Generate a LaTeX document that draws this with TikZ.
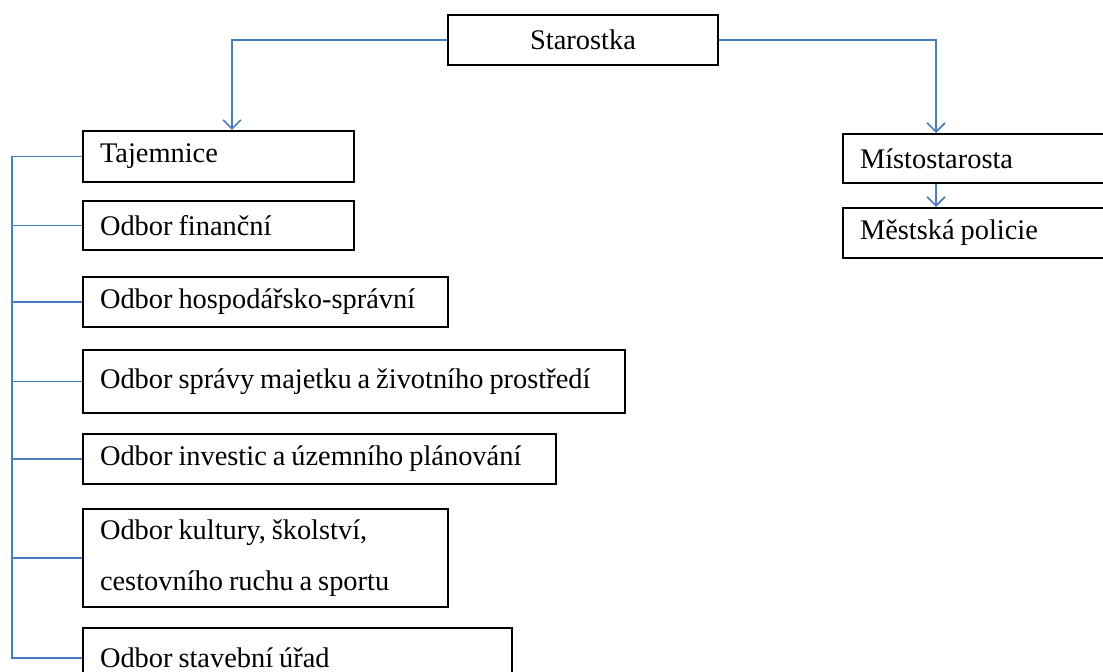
\documentclass[tikz,border=0pt]{standalone}
\usepackage{fontspec}
\setmainfont{Liberation Serif}
\usepackage{xcolor}
\usepackage{tikz}
\usetikzlibrary{arrows.meta}
\definecolor{linkblue}{RGB}{74,126,187}
\newcommand{\uzkemezery}{\spaceskip=0.21em plus 0.05em\relax}
\tikzset{
	odbor/.style={draw=black, line width=1pt, anchor=north west, align=left, inner xsep=8.5pt, inner ysep=0pt, font=\fontsize{14.2}{25.5}\selectfont, execute at begin node=\uzkemezery},
	vedeni/.style={draw=black, line width=1pt, anchor=north west, align=center, inner sep=0pt, font=\fontsize{14.2}{17}\selectfont},
	link/.style={draw=linkblue, line width=0.8pt},
	sipka/.style={link, -{Straight Barb[length=4.5pt,width=9pt,line width=0.8pt]}}
}

\begin{document}
\begin{tikzpicture}[x=0.5pt, y=-0.5pt]
	\useasboundingbox (0,0) rectangle (1103,672);
	
	\node[vedeni, minimum width=135pt, minimum height=25pt] (star) at (447,14) {Starostka};
	
	\node[odbor, text width=118.5pt, minimum height=25.5pt] (taj) at (82,130) {Tajemnice};
	\node[odbor, text width=118.5pt, minimum height=24.5pt] (fin) at (82,200) {Odbor finanční};
	\node[odbor, text width=165.5pt, minimum height=25pt] (hosp) at (82,276) {Odbor hospodářsko-správní};
	\node[odbor, text width=254pt, minimum height=31.5pt] (sprav) at (82,349) {Odbor správy majetku a životního prostředí};
	\node[odbor, text width=219.5pt, minimum height=25pt] (inv) at (82,433) {Odbor investic a územního plánování};
	\node[odbor, text width=165.5pt, minimum height=49pt] (kult) at (82,508) {Odbor kultury, školství,\\cestovního ruchu a sportu};
	\node[odbor, text width=197.5pt, minimum height=30pt] (stav) at (82,627) {Odbor stavební úřad};
	
	\node[odbor, text width=119.5pt, minimum height=24.5pt] (mist) at (842,133) {Místostarosta};
	\node[odbor, text width=119.5pt, minimum height=25pt] (mest) at (842,207) {Městská policie};
	
	% sbernice vlevo a svisle vetve
	\coordinate (rail) at (12,0);
	\coordinate (levy) at (232,0);
	\coordinate (pravy) at (936,0);
	
	\draw[sipka] (star.west) -| (taj.north -| levy);
	\draw[sipka] (star.east) -| (mist.north -| pravy);
	\draw[sipka] (mist.south -| pravy) -- (mest.north -| pravy);
	
	\draw[link] (taj.west) -- (taj.west -| rail) -- (stav.west -| rail) -- (stav.west);
	\foreach \n in {fin,hosp,sprav,inv,kult}
		\draw[link] (\n.west) -- (\n.west -| rail);
\end{tikzpicture}
\end{document}
